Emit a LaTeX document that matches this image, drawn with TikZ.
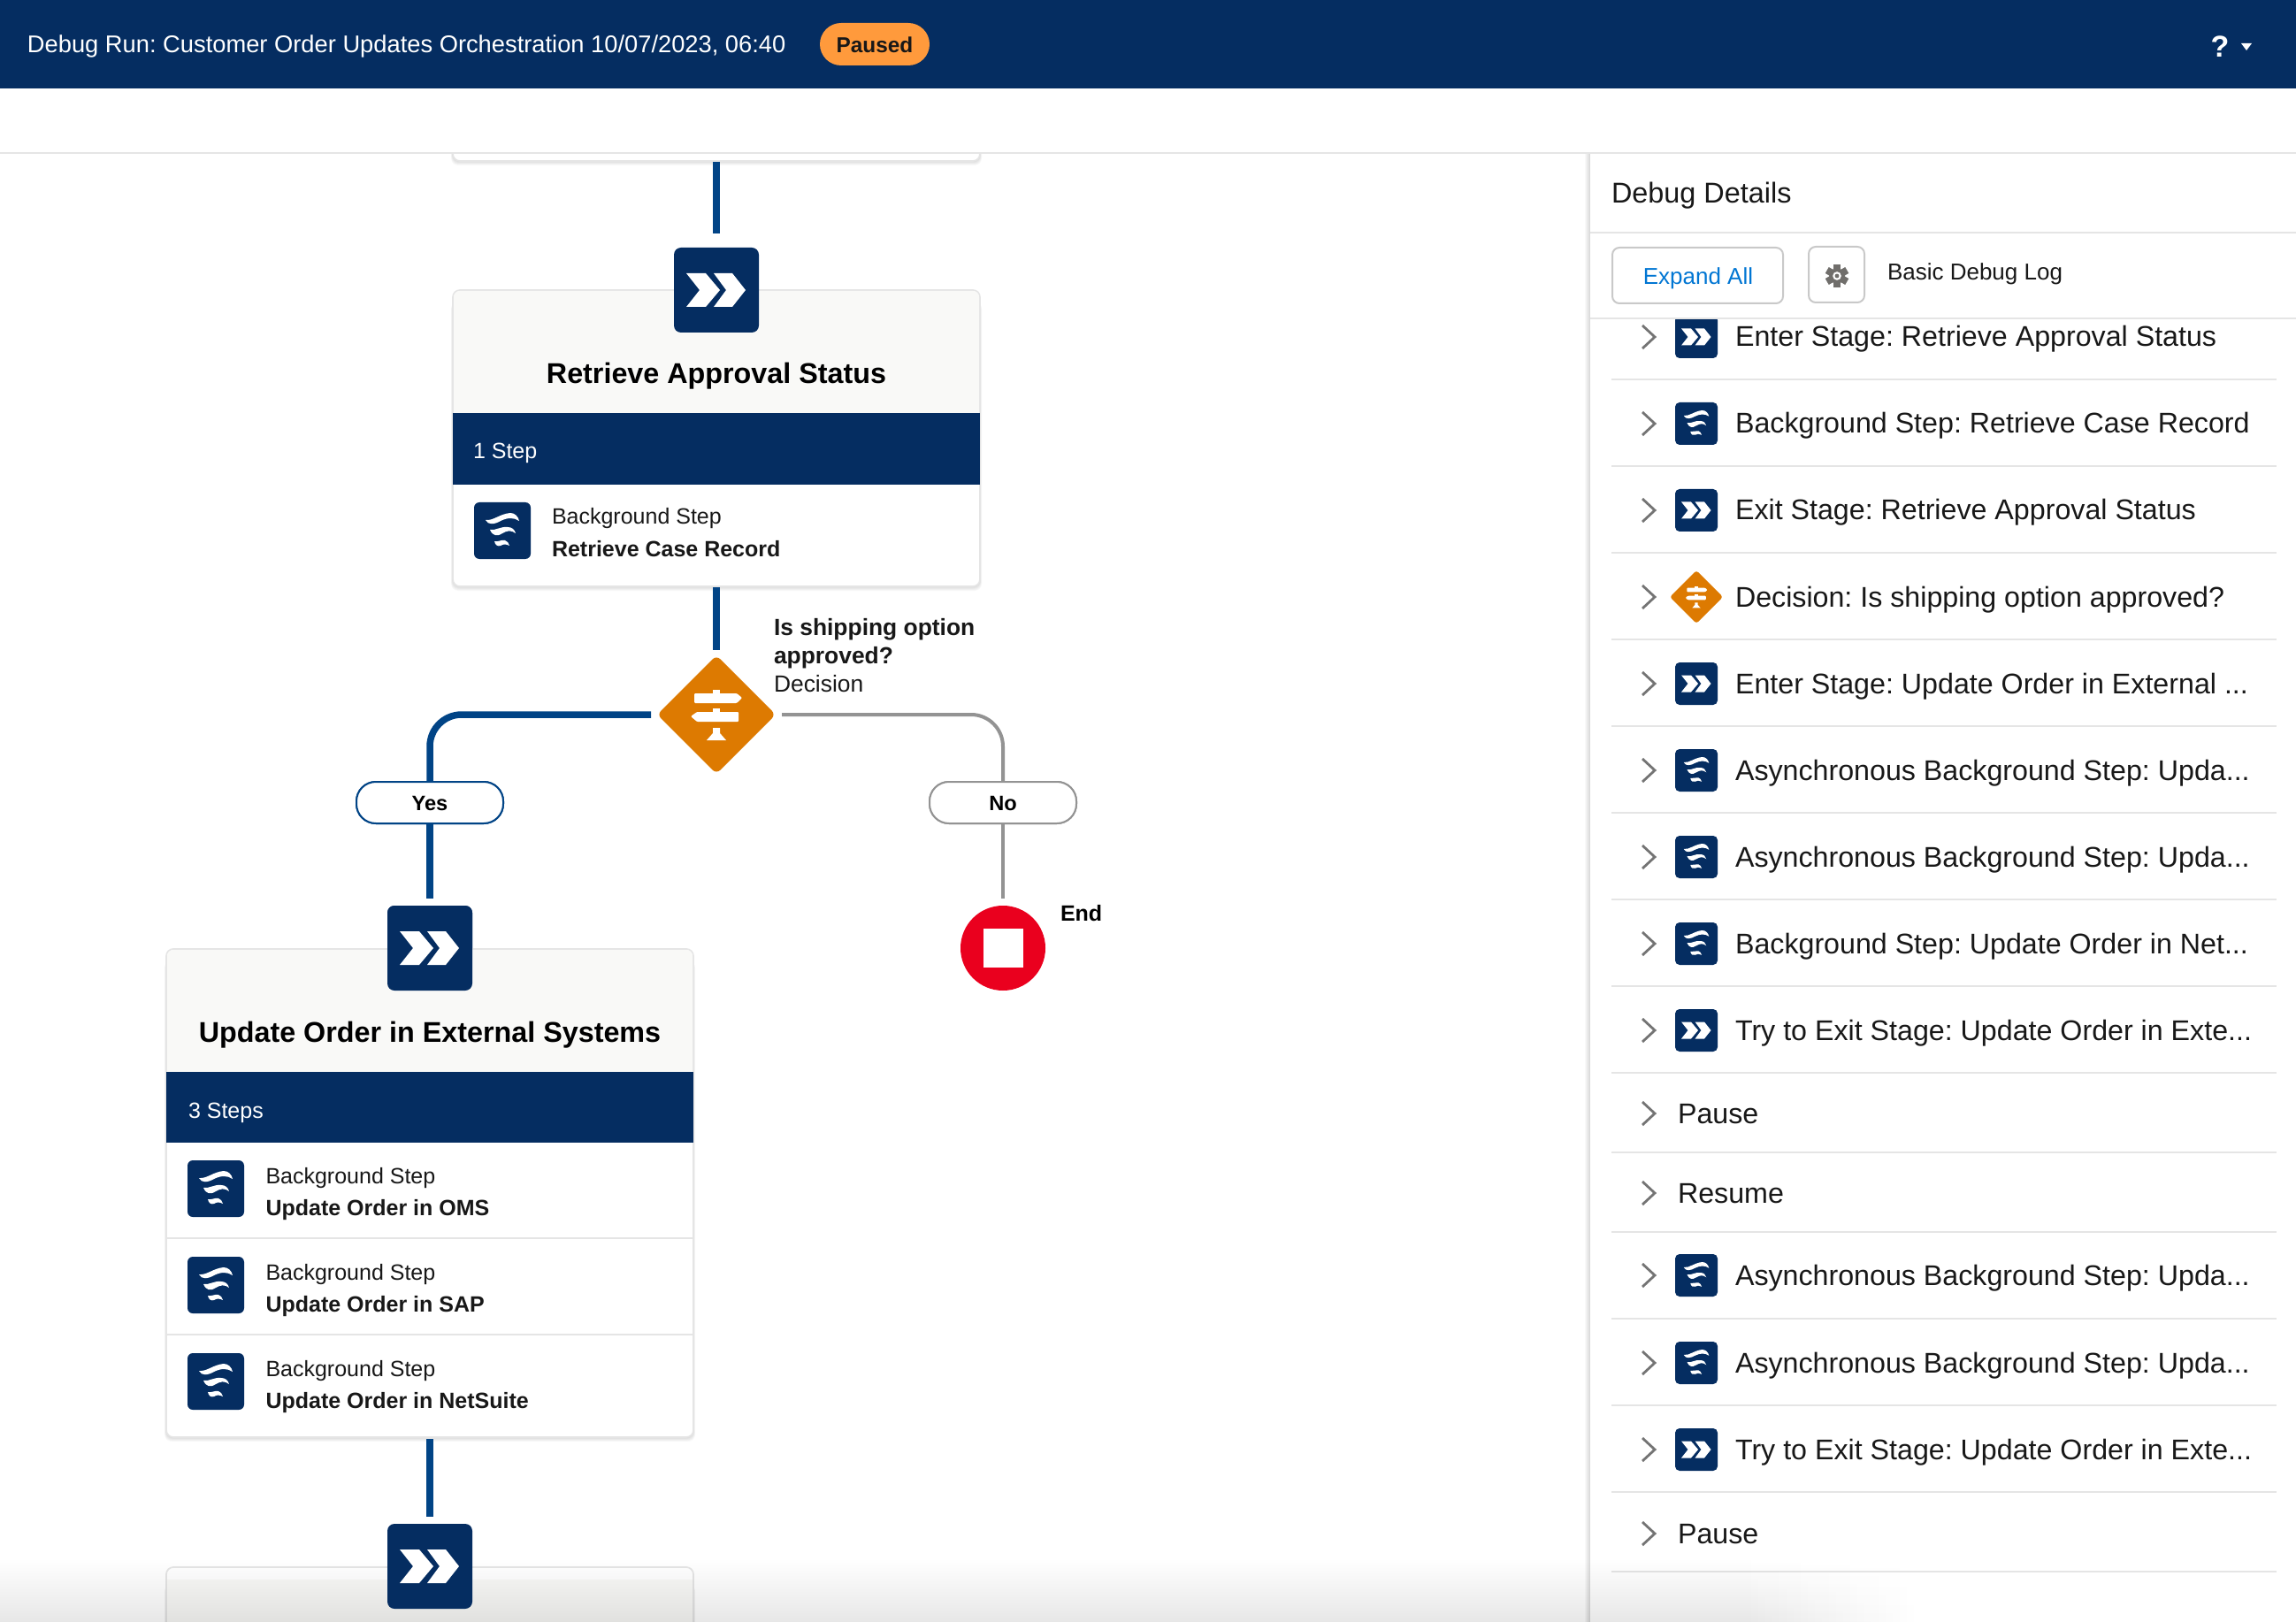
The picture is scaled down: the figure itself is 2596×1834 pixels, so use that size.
\documentclass[tikz,border=0pt]{standalone}
\usepackage{fontspec}
\setmainfont{Liberation Sans}
\usetikzlibrary{shapes.geometric}
\definecolor{navy}{HTML}{052D61}
\definecolor{flowblue}{HTML}{014486}
\definecolor{flowgrey}{HTML}{939393}
\definecolor{rulegrey}{HTML}{E5E5E5}
\definecolor{headfill}{HTML}{F9F9F7}
\definecolor{inkdark}{HTML}{181818}
\definecolor{chevgrey}{HTML}{747474}
\definecolor{decorange}{HTML}{DD7A01}
\definecolor{endred}{HTML}{EA001E}
\definecolor{pausedorange}{HTML}{FF9A3C}
\definecolor{linkblue}{HTML}{0176D3}
\definecolor{btnborder}{HTML}{C9C9C9}
\definecolor{geargrey}{HTML}{706E6B}
\newcommand\fsize[1]{\fontsize{#1pt}{#1pt}\selectfont}
\newcommand\softshadow[4]{%
  \foreach \s in {1,2,3,4,5}
    \fill[black,opacity=.028,rounded corners=4pt] (#1-\s*.4,#2) rectangle (#3+\s*.4,#4+\s);
}
\tikzset{
  x=.5pt,y=-.5pt,
  plaintext/.style={inner sep=0,outer sep=0,text=inkdark},
  sheet/.style={draw=rulegrey,line width=.85pt,fill=white,rounded corners=4pt,inner sep=0,outer sep=0},
  stagebox/.style={fill=navy,rounded corners=4pt,minimum width=48pt,minimum height=48pt,inner sep=0,outer sep=0},
  stepbox/.style={fill=navy,rounded corners=3pt,minimum width=32pt,minimum height=32pt,inner sep=0,outer sep=0},
  minibox/.style={fill=navy,rounded corners=2.5pt,minimum width=24pt,minimum height=24pt,inner sep=0,outer sep=0},
  decbox/.style={shape=diamond,aspect=1,fill=decorange,inner sep=0,outer sep=0},
  flow/.style={draw=flowblue,line width=3.75pt},
  flowno/.style={draw=flowgrey,line width=2pt},
  branchpill/.style={draw=#1,line width=1pt,fill=white,rounded corners=11pt,minimum width=83pt,minimum height=23.5pt,inner sep=0,outer sep=0},
  sep/.style={draw=rulegrey,line width=1.25pt},
  chev/.style={draw=chevgrey,line width=1.4pt},
  cardtitle/.style={plaintext,text=black,anchor=base,font=\fsize{16.15}\bfseries},
  cardband/.style={plaintext,text=white,anchor=base west,font=\fsize{12.5}},
  steptype/.style={plaintext,anchor=base west,font=\fsize{12.5}},
  stepname/.style={plaintext,anchor=base west,font=\fsize{12.5}\bfseries},
  rowtext/.style={plaintext,anchor=base west,font=\fsize{16.1}},
  decision label/.style={plaintext,anchor=base west,font=\fsize{13.2}},
  stageglyph/.pic={
    \fill[white] (-34,-19)--(-12,-19)--(4,0)--(-12,19)--(-34,19)--(-19,0)--cycle;
    \fill[white] (-3,-19)--(18,-19)--(33,0)--(18,19)--(-3,19)--(11,0)--cycle;
  },
  stepglyph/.pic={
    \fill[white] (-19,-12) .. controls (-10,-11) and (-3,-19) .. (9,-20)
       .. controls (14,-20) and (18,-16) .. (19,-11)
       .. controls (13,-15) and (6,-15) .. (-2,-11)
       .. controls (-9,-7) and (-16,-6) .. (-19,-12) -- cycle;
    \fill[white] (-14,-1) .. controls (-7,0) and (-2,-5) .. (6,-4)
       .. controls (11,-4) and (14,-1) .. (15,3)
       .. controls (10,-1) and (5,0) .. (0,3)
       .. controls (-6,7) and (-11,6) .. (-14,-1) -- cycle;
    \fill[white] (-9,12) .. controls (-5,13) and (-1,10) .. (3,11)
       .. controls (6,12) and (7,14) .. (8,17)
       .. controls (4,15) and (1,15) .. (-2,17)
       .. controls (-5,18) and (-8,17) .. (-9,12) -- cycle;
  },
  signglyph/.pic={
    \fill[white,rounded corners=.5pt] (-25,-24)--(23,-24)--(29,-19)--(23,-13)--(-25,-13)--cycle;
    \fill[white] (-4,-28) rectangle (4,-24);
    \fill[white,rounded corners=.5pt] (-29,2)--(-22,-3)--(25,-3)--(25,8)--(-22,8)--cycle;
    \fill[white] (-4,-7) rectangle (4,-3);
    \fill[white] (-4,15)--(4,15)--(4,21)--(11,29)--(-11,29)--(-4,21)--cycle;
  },
}
\frenchspacing
\begin{document}
\begin{tikzpicture}
\useasboundingbox (0,-1) rectangle (2596,1833);
\fill[white] (0,-1) rectangle (2596,1834);

% ---------- flow canvas ----------
\softshadow{512}{120}{1108}{181}
\node[sheet,minimum width=298pt,minimum height=40pt] (cardtop) at (810,141) {};

% Retrieve Approval Status
\softshadow{512}{340}{1108}{662}
\node[sheet,minimum width=298pt,minimum height=167.5pt] (carda) at (810,494.5) {};
\fill[headfill,rounded corners=3.5pt] (513,328) rectangle (1107,480);
\fill[white] (513,470) rectangle (1107,480);
\fill[navy] (512,466) rectangle (1108,547);
\fill[white] (513,547) rectangle (1107,560);
\node[cardtitle] (titlea) at (810,433) {Retrieve Approval Status};
\node[cardband] (banda) at (535,518) {1 Step};
\node[stepbox] (stepa) at (568,599) {};
\pic at (stepa) {stepglyph};
\node[steptype] (stepatype) at (624,591) {Background Step};
\node[stepname] (stepaname) at (624,628) {Retrieve Case Record};

\draw[flow,shorten >=4pt,shorten <=.5pt] (cardtop.south) -- ++(0,90) coordinate (stagea top);
\node[stagebox] (stagea) at (810,327) {};
\pic at (stagea) {stageglyph};

% Decision
\node[decbox,rounded corners=3pt,minimum width=67pt,minimum height=67pt] (decision) at (810,807) {};
\pic at (decision) {signglyph};
\draw[flow,shorten <=.5pt,shorten >=3pt] (carda.south) -- (decision.north);
\node[decision label,font=\fsize{13.2}\bfseries] (declabela) at (875,717) {Is shipping option};
\node[decision label,font=\fsize{13.2}\bfseries] (declabelb) at (875,749) {approved?};
\node[decision label] (declabelc) at (875,781) {Decision};

% Yes branch
\node[stagebox] (stageb) at (486,1071) {};
\node[branchpill=flowblue] (yes) at (486,906.5) {};
\draw[flow,rounded corners=18pt,shorten <=3.5pt] (decision.west) -| (yes.north);
\node[branchpill=flowblue] (yes) at (486,906.5) {};
\node[plaintext,text=black,anchor=base,font=\fsize{11.8}\bfseries] (yeslabel) at (486,915) {Yes};
\draw[flow,shorten >=4pt] (yes.south) -- (stageb.north);

% No branch
\node[circle,fill=endred,minimum size=48pt,inner sep=0,outer sep=0] (endnode) at (1134,1071) {};
\fill[white] (1112,1049) rectangle (1157,1093);
\node[branchpill=flowgrey] (no) at (1134,906.5) {};
\draw[flowno,rounded corners=18pt,shorten <=3.5pt] (decision.east) -| (no.north);
\node[branchpill=flowgrey] (no) at (1134,906.5) {};
\node[plaintext,text=black,anchor=base,font=\fsize{11.8}\bfseries] (nolabel) at (1134,915) {No};
\draw[flowno,shorten >=4pt] (no.south) -- (endnode.north);
\node[plaintext,text=black,anchor=base west,font=\fsize{12.5}\bfseries] (endlabel) at (1199,1040) {End};

% Update Order in External Systems
\softshadow{188}{1085}{784}{1624}
\node[sheet,minimum width=298pt,minimum height=276pt] (cardb) at (486,1348) {};
\fill[headfill,rounded corners=3.5pt] (189,1073) rectangle (783,1225);
\fill[navy] (188,1211) rectangle (784,1291);
\fill[white] (189,1291) rectangle (783,1310);
\draw[sep] (189,1399) -- (783,1399);
\draw[sep] (189,1508) -- (783,1508);
\node[stagebox] (stageb) at (486,1071) {};
\pic at (stageb) {stageglyph};
\node[cardtitle] (titleb) at (486,1177) {Update Order in External Systems};
\node[cardband] (bandb) at (213,1263) {3 Steps};
\foreach \y/\t [count=\i] in {1343/{Update Order in OMS},1452/{Update Order in SAP},1561/{Update Order in NetSuite}} {
  \node[stepbox] (stepb\i) at (244,\y) {};
  \pic at (stepb\i) {stepglyph};
  \node[steptype] (stepbtype\i) at (300.5,\y-6) {Background Step};
  \node[stepname] (stepbname\i) at (300.5,\y+30) {\t};
}

% next stage (cut by the window)
\softshadow{188}{1790}{784}{1860}
\node[sheet,minimum width=298pt,minimum height=60pt] (cardc) at (486,1831) {};
\fill[headfill] (189,1785) rectangle (783,1834);

% ---------- debug panel ----------
\shade[left color=white,right color=black!14] (1791,172) rectangle (1797,1834);
\fill[white] (1797,172) rectangle (2596,1834);
\draw[black!15,line width=.5pt] (1797,172) -- (1797,1834);

\foreach \y in {428,526,624,722,820,918,1016,1114,1212,1302,1392,1490,1588,1686,1776}
  \draw[sep] (1822,\y) -- (2574,\y);

\foreach \y in {380,478,576,674,772,870,968,1066,1164,1258,1348,1441,1540,1638,1733}
  \draw[chev] (1857,\y-13) -- (1871,\y) -- (1857,\y+13);

\foreach \y/\t [count=\i] in {380/{Enter Stage: Retrieve Approval Status},576/{Exit Stage: Retrieve Approval Status},772/{Enter Stage: Update Order in External ...},1164/{Try to Exit Stage: Update Order in Exte...},1638/{Try to Exit Stage: Update Order in Exte...}} {
  \node[minibox] (stagerow\i) at (1918,\y) {};
  \pic[scale=.5] at (stagerow\i) {stageglyph};
  \node[rowtext] (stagerowtext\i) at (1962,\y+11) {\t};
}
\foreach \y/\t [count=\i] in {478/{Background Step: Retrieve Case Record},870/{Asynchronous Background Step: Upda...},968/{Asynchronous Background Step: Upda...},1066/{Background Step: Update Order in Net...},1441/{Asynchronous Background Step: Upda...},1540/{Asynchronous Background Step: Upda...}} {
  \node[minibox] (steprow\i) at (1918,\y) {};
  \pic[scale=.75] at (steprow\i) {stepglyph};
  \node[rowtext] (steprowtext\i) at (1962,\y+11) {\t};
}
\node[decbox,rounded corners=1.5pt,minimum width=30pt,minimum height=30pt] (decrow) at (1918,674) {};
\pic[scale=.43] at (decrow) {signglyph};
\node[rowtext] (decrowtext) at (1962,685) {Decision: Is shipping option approved?};
\foreach \y/\t [count=\i] in {1258/Pause,1348/Resume,1733/Pause}
  \node[rowtext] (plainrow\i) at (1897,\y+11) {\t};

% panel head covers the scrolled list
\fill[white] (1798,172) rectangle (2596,358);
\draw[sep] (1798,262) -- (2596,262);
\draw[sep] (1798,359) -- (2596,359);
\node[plaintext,anchor=base west,font=\fsize{16.2}] (paneltitle) at (1822,229) {Debug Details};
\node[draw=btnborder,line width=1pt,rounded corners=4pt,fill=white,minimum width=96.5pt,minimum height=31.5pt,inner sep=0,outer sep=0] (expand) at (1919.5,310.5) {};
\node[plaintext,text=linkblue,anchor=base,font=\fsize{13}] (expandlabel) at (1920,321) {Expand All};
\node[draw=btnborder,line width=1pt,rounded corners=4pt,fill=white,minimum width=31.5pt,minimum height=31.5pt,inner sep=0,outer sep=0] (gearbtn) at (2076.5,309.5) {};
\foreach \a in {0,60,...,300}
  \fill[geargrey,rotate around={\a:(2077,311)}] (2073,298) rectangle (2081,305);
\fill[geargrey] (2077,311) circle (4.4pt);
\fill[white] (2077,311) circle (2.4pt);
\fill[geargrey] (2077,311) circle (1.2pt);
\node[plaintext,anchor=base west,font=\fsize{13}] (loglabel) at (2134,316) {Basic Debug Log};

% soft fade along the bottom edge
\foreach \i in {0,...,23} {
  \pgfmathsetmacro\xe{1980+mod(\i*7,24)*8}
  \fill[black,opacity=.0048] (0,1763+\i*3) rectangle (\xe,1834);
}
\node[stagebox] (stagec) at (486,1770) {};
\pic at (stagec) {stageglyph};
\draw[flow,shorten <=1pt,shorten >=4pt] (cardb.south) -- (stagec.north);

% ---------- window chrome ----------
\fill[white] (0,99) rectangle (2596,171);
\draw[sep] (0,172) -- (2596,172);
\fill[navy] (0,-1) rectangle (2596,99);
\node[plaintext,text=white,anchor=base west,font=\fsize{13.65}] (runtitle) at (31,59) {Debug Run: Customer Order Updates Orchestration 10/07/2023, 06:40};
\node[fill=pausedorange,rounded corners=12pt,minimum width=62pt,minimum height=24pt,inner sep=0,outer sep=0] (pausedpill) at (989,49) {};
\node[plaintext,anchor=base,font=\fsize{12.2}\bfseries] (pausedlabel) at (989,58.5) {Paused};
\node[plaintext,text=white,anchor=base,font=\fsize{17}\bfseries] (help) at (2510,64) {?};
\fill[white] (2534,48) -- (2546,48) -- (2540,56) -- cycle;
\end{tikzpicture}
\end{document}
